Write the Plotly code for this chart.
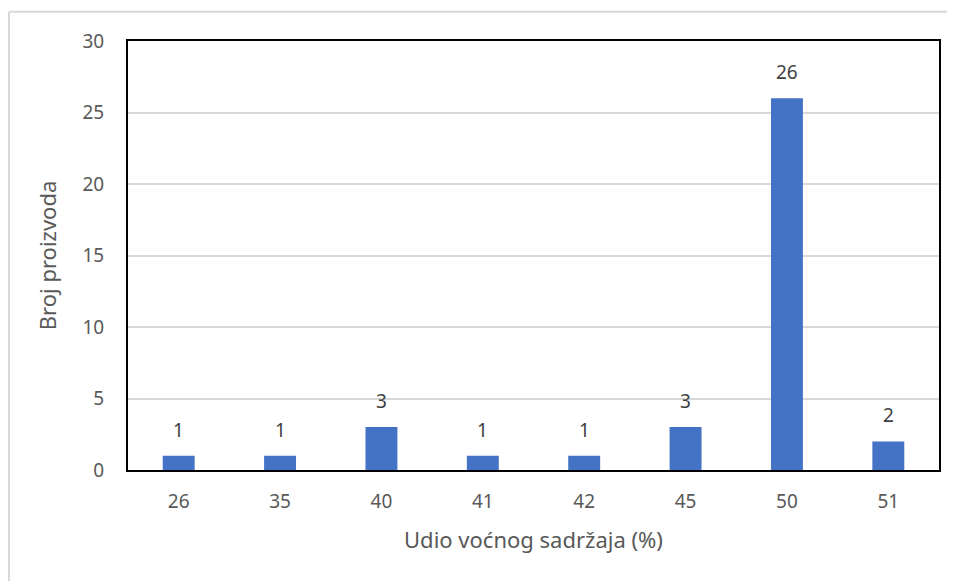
import plotly.graph_objects as go

categories = ["26", "35", "40", "41", "42", "45", "50", "51"]
counts = [1, 1, 3, 1, 1, 3, 26, 2]
y_ticks = [0, 5, 10, 15, 20, 25, 30]

FONT = "Noto Sans"
fig = go.Figure()
fig.add_trace(go.Bar(
    x=categories, y=counts, width=0.315,
    marker=dict(color="#4472C4", line=dict(width=0)),
))
for i, v in enumerate(counts):
    fig.add_annotation(x=i, y=v, xref="x", yref="y", text=str(v), showarrow=False,
                       yanchor="bottom", yshift=11,
                       font=dict(family=FONT, size=19, color="#404040"))

fig.update_layout(
    width=947, height=573,
    paper_bgcolor="white", plot_bgcolor="white",
    margin=dict(l=120, r=16, t=33, b=111, autoexpand=False),
    showlegend=False,
    font=dict(family=FONT, color="#595959", size=18),
    shapes=[dict(type="line", xref="paper", yref="paper", x0=-0.1467, x1=1.03, y0=1.068, y1=1.068,
                 line=dict(color="#d9d9d9", width=2)),
            dict(type="line", xref="paper", yref="paper", x0=-0.1467, x1=-0.1467, y0=1.068, y1=-0.26,
                 line=dict(color="#d9d9d9", width=2))],
)
fig.update_xaxes(
    type="category", range=[-0.5, 7.5], showline=True, linecolor="black", linewidth=2, mirror=True,
    ticks="", tickfont=dict(size=19, color="#595959"), ticklabelstandoff=13, automargin=False,
    title=dict(text="Udio voćnog sadržaja (%)", font=dict(size=22, color="#595959"), standoff=20),
)
fig.update_yaxes(
    range=[0, 30], tickvals=y_ticks, showgrid=True, gridcolor="#d9d9d9", gridwidth=2,
    showline=True, linecolor="black", linewidth=2, mirror=True, zeroline=False,
    ticks="", tickfont=dict(size=19, color="#595959"), ticklabelstandoff=18, automargin=False,
    title=dict(text="Broj proizvoda", font=dict(size=22, color="#595959"), standoff=20),
)
fig.write_html("out.html")
